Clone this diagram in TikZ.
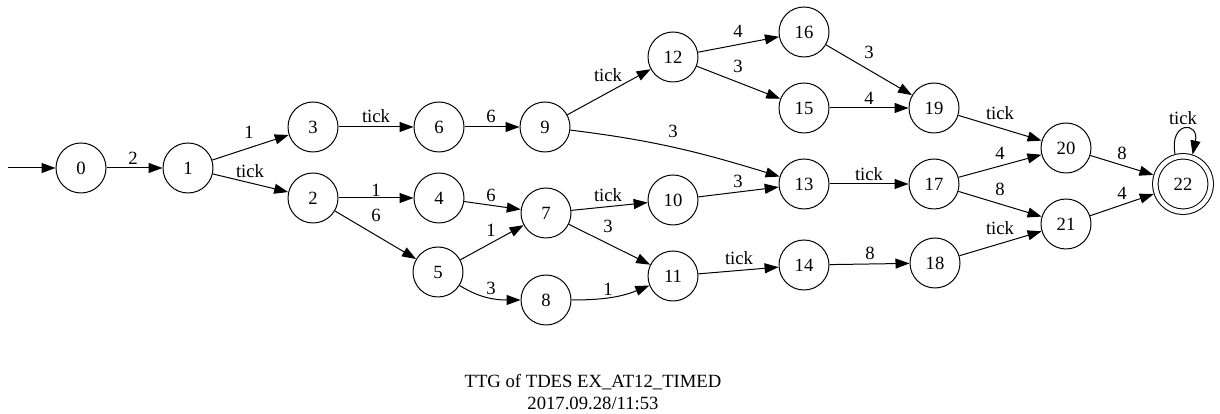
\documentclass[tikz,border=0pt]{standalone}
\usepackage{fontspec}
\setmainfont{Liberation Serif}
\usetikzlibrary{arrows.meta}
\begin{document}
\begin{tikzpicture}[x=1pt,y=1pt,
  every node/.style={font=\fontsize{18.67}{22.4}\selectfont},
  st/.style={circle, draw, line width=1pt, minimum size=50pt, inner sep=0pt},
  acc/.style={st, double, double distance=4.5pt, minimum size=55.5pt, outer sep=3.2pt},
  e/.style={draw, line width=1pt, -{Triangle[length=14pt,width=10pt]}},
  lbl/.style={inner sep=0pt}]
\useasboundingbox (0,0) rectangle (1220,414);

% states
\node[st] (0)  at (81,246)   {0};
\node[st] (1)  at (188,246)  {1};
\node[st] (3)  at (313,287)  {3};
\node[st] (2)  at (313,216)  {2};
\node[st] (6)  at (439,287)  {6};
\node[st] (4)  at (439,216)  {4};
\node[st] (5)  at (438,142)  {5};
\node[st] (9)  at (545,287)  {9};
\node[st] (7)  at (546,201)  {7};
\node[st] (8)  at (546,114)  {8};
\node[st] (12) at (673,357)  {12};
\node[st] (10) at (673,214)  {10};
\node[st] (11) at (673,138)  {11};
\node[st] (16) at (804,382)  {16};
\node[st] (15) at (804,306)  {15};
\node[st] (13) at (804,230)  {13};
\node[st] (14) at (804,149)  {14};
\node[st] (19) at (934,306)  {19};
\node[st] (17) at (934,230)  {17};
\node[st] (18) at (935,151)  {18};
\node[st] (20) at (1066,266) {20};
\node[st] (21) at (1066,190) {21};
\node[acc] (22) at (1183,230) {22};

% initial arrow
\coordinate (s) at (8,246);
\draw[e] (s) -- (0);

% transitions
\draw[e] (0) -- (1)   node[lbl] at (133,256) {2};
\draw[e] (1) -- (3)   node[lbl] at (249,282) {1};
\draw[e] (1) -- (2)   node[lbl] at (250,243) {tick};
\draw[e] (3) -- (6)   node[lbl] at (376,298) {tick};
\draw[e] (6) -- (9)   node[lbl] at (491,298) {6};
\draw[e] (2) -- (4)   node[lbl] at (376,224) {1};
\draw[e] (2) -- (5)   node[lbl] at (376,199) {6};
\draw[e] (4) -- (7)   node[lbl] at (491,219) {6};
\draw[e] (5) -- (7)   node[lbl] at (491,184) {1};
\draw[e] (5) to[out=-32,in=180] (8) node[lbl] at (491,126) {3};
\draw[e] (7) -- (10)  node[lbl] at (608,219) {tick};
\draw[e] (7) -- (11)  node[lbl] at (608,188) {3};
\draw[e] (8) to[out=0,in=-158] (11) node[lbl] at (608,125) {1};
\draw[e] (9) -- (12)  node[lbl] at (608,339) {tick};
\draw[e] (9) to[out=-7,in=163] (13) node[lbl] at (673,283) {3};
\draw[e] (12) -- (16) node[lbl] at (738,383) {4};
\draw[e] (12) -- (15) node[lbl] at (738,348) {3};
\draw[e] (10) -- (13) node[lbl] at (738,233) {3};
\draw[e] (11) -- (14) node[lbl] at (739,156) {tick};
\draw[e] (16) -- (19) node[lbl] at (869,362) {3};
\draw[e] (15) -- (19) node[lbl] at (869,316) {4};
\draw[e] (13) -- (17) node[lbl] at (869,240) {tick};
\draw[e] (14) -- (18) node[lbl] at (870,161) {8};
\draw[e] (19) -- (20) node[lbl] at (1000,301) {tick};
\draw[e] (17) -- (20) node[lbl] at (1000,261) {4};
\draw[e] (17) -- (21) node[lbl] at (1000,225) {8};
\draw[e] (18) -- (21) node[lbl] at (1000,186) {tick};
\draw[e] (20) -- (22) node[lbl] at (1122,261) {8};
\draw[e] (21) -- (22) node[lbl] at (1122,221) {4};
\draw[e] (22.105) .. controls +(100:34) and +(78:34) .. (22.72)
  node[lbl] at (1183,296) {tick};

% caption
\node[align=center, inner sep=0pt] (title) at (593,22)
  {TTG of TDES EX\_AT12\_TIMED\\2017.09.28/11:53};
\end{tikzpicture}
\end{document}
